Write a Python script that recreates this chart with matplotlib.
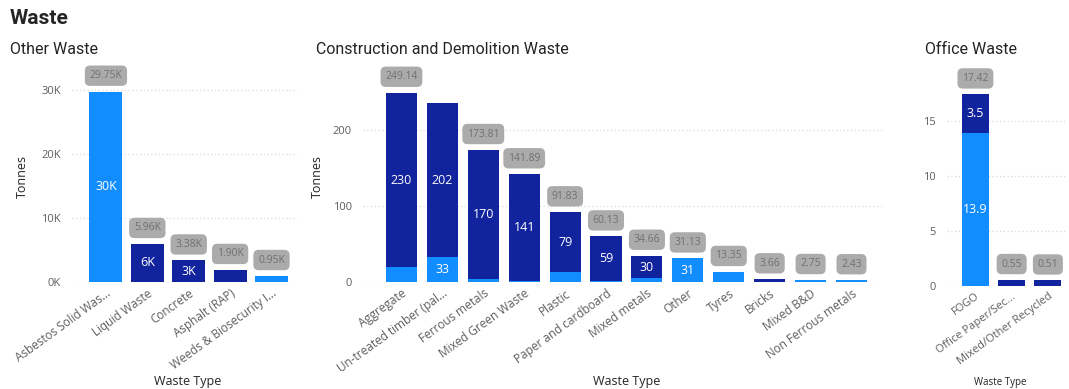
import matplotlib
matplotlib.use("Agg")
import matplotlib.pyplot as plt
from matplotlib.ticker import FuncFormatter

LIGHT = "#118DFF"
DARK = "#12239E"
GRID = "#D9D9D9"
TICK = "#605E5C"
TITLE = "#252423"

# ---------- data ----------
other_types = ["Asbestos Solid Was...", "Liquid Waste", "Concrete",
               "Asphalt (RAP)", "Weeds & Biosecurity I..."]
other_light = [29750, 0, 0, 0, 950]
other_dark = [0, 5960, 3380, 1900, 0]

cd_types = ["Aggregate", "Un-treated timber (pal...", "Ferrous metals",
            "Mixed Green Waste", "Plastic", "Paper and cardboard",
            "Mixed metals", "Other", "Tyres", "Bricks", "Mixed B&D",
            "Non Ferrous metals"]
cd_light = [19.14, 33, 3.81, 0.89, 12.83, 1.13, 4.66, 31.13, 13.35, 0, 2.75, 2.43]
cd_dark = [230, 202, 170, 141, 79, 59, 30, 0, 0, 3.66, 0, 0]
cd_hidden_totals = [1]

office_types = ["FOGO", "Office Paper/Sec...", "Mixed/Other Recycled"]
office_light = [13.92, 0, 0]
office_dark = [3.50, 0.55, 0.51]

W, H = 1069, 389
fig = plt.figure(figsize=(W / 100, H / 100), dpi=100)
fig.patch.set_facecolor("white")
plt.rcParams["font.family"] = ["Open Sans", "DejaVu Sans"]


def px_axes(left, top, right, bottom):
    return fig.add_axes([left / W, (H - bottom) / H, (right - left) / W, (bottom - top) / H])


def draw_panel(ax, types, light, dark, ylim, xlim, yticks, ytfmt, inner_fmt, total_fmt,
               width, hidden=(), tick_size=8.5):
    x = range(len(types))
    ax.bar(x, light, width=width, color=LIGHT, zorder=2)
    ax.bar(x, dark, width=width, bottom=light, color=DARK, zorder=2)
    ax.set_ylim(0, ylim)
    ax.set_xlim(*xlim)
    ax.set_yticks(yticks)
    ax.yaxis.set_major_formatter(FuncFormatter(lambda v, p: ytfmt(v)))
    ax.grid(axis="y", color=GRID, linestyle=(0, (1, 2)), linewidth=0.9, zorder=0)
    for s in ax.spines.values():
        s.set_visible(False)
    ax.tick_params(axis="both", length=0, colors=TICK, labelsize=tick_size)
    ax.tick_params(axis="y", pad=8, labelsize=8)
    ax.set_xticks(list(x))
    ax.set_xticklabels(types, rotation=36, ha="right", rotation_mode="anchor")

    thresh = ylim * 0.075
    for i in x:
        lo, hi = light[i], dark[i]
        if lo >= thresh:
            ax.text(i, lo / 2, inner_fmt(lo), color="white", ha="center", va="center",
                    fontsize=9, zorder=3)
        if hi >= thresh:
            ax.text(i, lo + hi / 2, inner_fmt(hi), color="white", ha="center", va="center",
                    fontsize=9, zorder=3)
        if i in hidden:
            continue
        total = lo + hi
        ax.annotate(total_fmt(total), (i, total), xytext=(0, 7.5), textcoords="offset points",
                    ha="center", va="bottom", fontsize=7.5, color="#707070", zorder=4,
                    annotation_clip=False,
                    bbox=dict(boxstyle="round,pad=0.45,rounding_size=0.5",
                              fc="#ABABAB", ec="none"))


# ---------- Other Waste ----------
ax1 = px_axes(72, 70, 298, 282)
draw_panel(ax1, other_types, other_light, other_dark, 33125, (-0.82, 4.64),
           [0, 10000, 20000, 30000], lambda v: f"{v / 1000:.0f}K",
           lambda v: f"{v / 1000:.0f}K", lambda v: f"{v / 1000:.2f}K", 0.8)
ax1.set_ylabel("Tonnes", fontsize=9, color=TITLE, labelpad=9)

# ---------- Construction and Demolition Waste ----------
ax2 = px_axes(363, 70, 883, 282)
draw_panel(ax2, cd_types, cd_light, cd_dark, 279, (-0.94, 11.77),
           [0, 100, 200], lambda v: f"{v:.0f}",
           lambda v: f"{v:.0f}", lambda v: f"{v:.2f}", 0.76, hidden=cd_hidden_totals)
ax2.set_ylabel("Tonnes", fontsize=9, color=TITLE, labelpad=6)

# ---------- Office Waste ----------
ax3 = px_axes(947, 74, 1066, 286)
draw_panel(ax3, office_types, office_light, office_dark, 19.27, (-0.785, 2.5),
           [0, 5, 10, 15], lambda v: f"{v:.0f}",
           lambda v: f"{v:.1f}", lambda v: f"{v:.2f}", 0.75, tick_size=8)

# ---------- titles ----------
fig.text(10 / W, 1 - 18 / H, "Waste", fontsize=15, fontweight="bold", color=TITLE,
         family="Roboto", va="center")
for xpx, t in [(10, "Other Waste"), (316, "Construction and Demolition Waste"),
               (925, "Office Waste")]:
    fig.text(xpx / W, 1 - 49 / H, t, fontsize=11.5, color=TITLE, family="Roboto", va="center")

for xpx, size in [(188, 9), (627, 9), (1000, 7)]:
    fig.text(xpx / W, 1 - 382 / H, "Waste Type", fontsize=size, color=TITLE,
             ha="center", va="center")

fig.savefig("out.png", dpi=100)
